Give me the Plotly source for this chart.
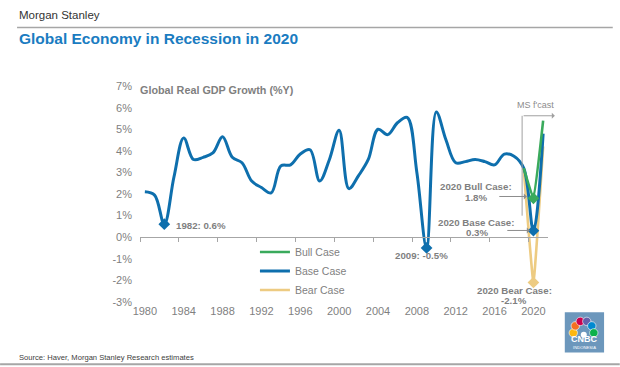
import plotly.graph_objects as go

# ---------------- data ----------------
years = list(range(1980, 2022))
base_case = [2.1, 1.95, 0.6, 2.8, 4.6, 3.6, 3.7, 3.9, 4.65, 3.7,
             3.45, 2.6, 2.3, 2.05, 3.3, 3.35, 3.85, 4.05, 2.6, 3.6,
             4.95, 2.25, 2.85, 3.6, 5.0, 4.75, 5.3, 5.55, 3.0, -0.5,
             5.8, 4.5, 3.45, 3.5, 3.6, 3.5, 3.35, 3.85, 3.75, 3.2,
             0.3, 4.8]
forecast_years = [2019, 2020, 2021]
bull_case = [3.2, 1.8, 5.4]
bear_case = [3.2, -2.1, 4.2]
base_marked_years = [1982, 2009, 2020]
y_ticks = list(range(-3, 8))
y_tick_labels = [f"{v}%" for v in y_ticks]
x_ticks = list(range(1980, 2021, 4))
x_tick_labels = [str(v) for v in x_ticks]
x_tick_marks = [v - 0.5 for v in range(1980, 2021, 4)]

# ---------------- styling ----------------
FONT = "Liberation Sans, Arial, sans-serif"
BLUE = "#0E6FAD"
GREEN = "#3AAA5C"
YELLOW = "#EDCB82"
GRAY = "#7F7F7F"
TITLE_BLUE = "#1A7CC1"

W, H = 620, 367
L, R, T, B = 140, 71.8, 84.9, 63.9
PW, PH = W - L - R, H - T - B
X_RANGE = [1979.5, 2021.5]
Y_RANGE = [-3.05, 7.05]


def px_x(px):
    return (px - L) / PW


def px_y(py):
    return (H - B - py) / PH


def base_at(yr):
    return base_case[years.index(yr)]


fig = go.Figure()

# bear
fig.add_trace(go.Scatter(x=forecast_years, y=bear_case, mode="lines", name="Bear Case",
                         line=dict(color=YELLOW, width=2.6, shape="spline", smoothing=0.3),
                         legendrank=3, hoverinfo="skip"))
fig.add_trace(go.Scatter(x=[2020], y=[bear_case[1]], mode="markers", showlegend=False,
                         marker=dict(symbol="diamond", size=9, color=YELLOW), hoverinfo="skip"))
# base
fig.add_trace(go.Scatter(x=years, y=base_case, mode="lines", name="Base Case",
                         line=dict(color=BLUE, width=3, shape="spline", smoothing=1),
                         legendrank=2, hoverinfo="skip"))
fig.add_trace(go.Scatter(x=base_marked_years, y=[base_at(y) for y in base_marked_years],
                         mode="markers", showlegend=False,
                         marker=dict(symbol="diamond", size=9, color=BLUE), hoverinfo="skip"))
# bull
fig.add_trace(go.Scatter(x=forecast_years, y=bull_case, mode="lines", name="Bull Case",
                         line=dict(color=GREEN, width=2.6, shape="spline", smoothing=0.3),
                         legendrank=1, hoverinfo="skip"))
fig.add_trace(go.Scatter(x=[2020], y=[bull_case[1]], mode="markers", showlegend=False,
                         marker=dict(symbol="diamond", size=9, color=GREEN), hoverinfo="skip"))
# dummy trace for zero axis
fig.add_trace(go.Scatter(x=[X_RANGE[0]], y=[0], xaxis="x2", mode="markers", showlegend=False,
                         marker=dict(opacity=0), hoverinfo="skip"))

zero_pos = (0 - Y_RANGE[0]) / (Y_RANGE[1] - Y_RANGE[0])

fig.update_layout(
    width=W, height=H,
    margin=dict(l=L, r=R, t=T, b=B),
    paper_bgcolor="white", plot_bgcolor="white",
    font=dict(family=FONT, color=GRAY),
    xaxis=dict(range=X_RANGE, tickvals=x_ticks, ticktext=x_tick_labels,
               showgrid=False, zeroline=False, showline=False, ticks="",
               tickfont=dict(size=11, color=GRAY), fixedrange=True),
    xaxis2=dict(range=X_RANGE, overlaying="x", anchor="free", position=zero_pos,
                side="bottom", tickvals=x_tick_marks, ticks="outside", ticklen=4,
                tickcolor="#A6A6A6", showticklabels=False, showline=True,
                linecolor="#A6A6A6", linewidth=1, showgrid=False, zeroline=False),
    yaxis=dict(range=Y_RANGE, tickvals=y_ticks, ticktext=y_tick_labels,
               showgrid=False, zeroline=False, showline=False, ticks="",
               ticklabelstandoff=7, tickfont=dict(size=11, color=GRAY)),
    legend=dict(x=px_x(255), y=px_y(271), xanchor="left", yanchor="middle",
                bgcolor="rgba(0,0,0,0)", font=dict(size=10.5, color=GRAY),
                tracegroupgap=0, itemwidth=30),
    showlegend=True,
)

anns = []


def text(t, px, py, size, color=GRAY, anchor="left", bold=False):
    anns.append(dict(text=f"<b>{t}</b>" if bold else t, xref="paper", yref="paper",
                     x=px_x(px), y=px_y(py), xanchor=anchor, yanchor="middle",
                     showarrow=False, font=dict(size=size, color=color, family=FONT)))


def arrow(tip_px, tip_py, tail_px, color="#8C8C8C"):
    anns.append(dict(text="", xref="paper", yref="paper", x=px_x(tip_px), y=px_y(tip_py),
                     ax=tail_px - tip_px, ay=0, showarrow=True, arrowhead=1,
                     arrowsize=1, arrowwidth=1, arrowcolor=color))


text("Morgan Stanley", 16.5, 15, 11.5, color="#333333")
text("Global Economy in Recession in 2020", 16.5, 38.5, 15.5, color=TITLE_BLUE, bold=True)
text("Global Real GDP Growth (%Y)", 138, 90, 10.8, bold=True)
text("Source: Haver, Morgan Stanley Research estimates", 16.5, 357.5, 7.6, color="#404040")

# data labels
anns.append(dict(text=f"<b>1982: {base_at(1982):.1f}%</b>", x=1982, y=base_at(1982),
                 xanchor="left", yanchor="middle", xshift=10, yshift=-1, showarrow=False,
                 font=dict(size=9.7, color=GRAY, family=FONT)))
anns.append(dict(text=f"<b>2009: {base_at(2009):.1f}%</b>", x=2009, y=base_at(2009),
                 xanchor="center", yanchor="middle", xshift=-5, yshift=-8, showarrow=False,
                 font=dict(size=9.7, color=GRAY, family=FONT)))

text("2020 Bull Case:", 476, 186.7, 9.7, anchor="center", bold=True)
text(f"{bull_case[1]:.1f}%", 476.5, 197.5, 9.7, anchor="center", bold=True)
arrow(527, 196.5, 498)
text("2020 Base Case:", 476, 222.7, 9.7, anchor="center", bold=True)
text(f"{base_at(2020):.1f}%", 477.5, 233, 9.7, anchor="center", bold=True)
arrow(530, 230.5, 506)
text("2020 Bear Case:", 514.5, 290.7, 9.7, anchor="center", bold=True)
text(f"{bear_case[1]:.1f}%", 514.5, 301, 9.7, anchor="center", bold=True)

# MS f'cast bracket
text("MS f'cast", 535.5, 105, 9, color="#8C8C8C", anchor="center")
arrow(555, 115.7, 522.3, color="#A0A0A0")

shapes = [
    dict(type="line", xref="paper", yref="paper", x0=px_x(522.3), x1=px_x(522.3),
         y0=px_y(115.7), y1=px_y(215.7), line=dict(color="#A0A0A0", width=1)),
    dict(type="line", xref="paper", yref="paper", x0=px_x(17), x1=px_x(613),
         y0=px_y(27.3), y1=px_y(27.3), line=dict(color="#A6A6A6", width=1.5)),
    dict(type="line", xref="paper", yref="paper", x0=px_x(0), x1=px_x(620),
         y0=px_y(364.5), y1=px_y(364.5), line=dict(color="#A6A6A6", width=2)),
    # CNBC logo
    dict(type="rect", xref="paper", yref="paper", x0=px_x(565), x1=px_x(604.3),
         y0=px_y(312.3), y1=px_y(352.7), fillcolor="#6C97BC", line=dict(width=0)),
]
feathers = [("#FCB711", 573.5, 333), ("#F37021", 575.5, 326), ("#CC004C", 580.5, 321.5),
            ("#6460AA", 587, 321.5), ("#0089D0", 592, 326), ("#0DB14B", 594, 333)]
for col, fx, fy in feathers:
    shapes.append(dict(type="circle", xref="paper", yref="paper",
                       x0=px_x(fx - 4.2), x1=px_x(fx + 4.2), y0=px_y(fy - 4.2), y1=px_y(fy + 4.2),
                       fillcolor=col, line=dict(color="white", width=0.6)))
shapes.append(dict(type="circle", xref="paper", yref="paper",
                   x0=px_x(581), x1=px_x(587), y0=px_y(332), y1=px_y(338),
                   fillcolor="white", line=dict(width=0)))
text("CNBC", 584.5, 339.5, 9, color="white", anchor="center", bold=True)
text("INDONESIA", 584.5, 347.5, 4.2, color="white", anchor="center")

fig.update_layout(annotations=anns, shapes=shapes)
fig.write_html("out.html", config={"displayModeBar": False},
               post_script="document.body.style.margin='0';document.body.style.padding='0';")
